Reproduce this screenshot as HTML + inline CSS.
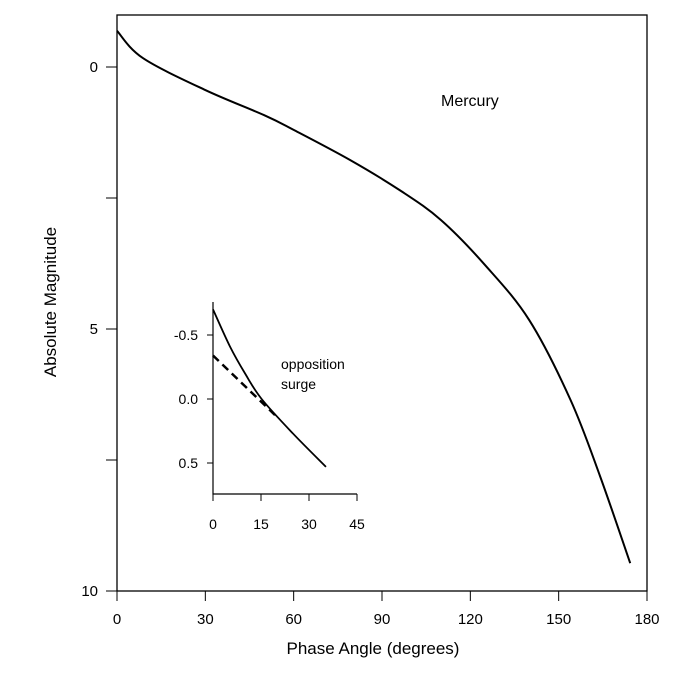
<!DOCTYPE html>
<html><head><meta charset="utf-8"><style>
body{margin:0;background:#fff}
svg text{font-family:"Liberation Sans",Arial,sans-serif;fill:#000}
</style></head><body>
<svg width="682" height="671" viewBox="0 0 682 671">
<g id="main"></g><g id="inset"></g>
<text x="441" y="106" font-size="16">Mercury</text>
<text x="281" y="369" font-size="14">opposition</text>
<text x="281" y="389" font-size="14">surge</text>
<text x="373" y="654" font-size="17" text-anchor="middle">Phase Angle (degrees)</text>
<text transform="translate(56,302) rotate(-90)" font-size="17" text-anchor="middle">Absolute Magnitude</text>
</svg>
<script>
const mainAngles=[0,8.8,30,50,60,79,96,110,125,140,154,164,174.3];
const mainMags=[-0.69,-0.17,0.44,0.92,1.2,1.77,2.35,2.92,3.78,4.83,6.35,7.8,9.47];
const xTicks=[0,30,60,90,120,150,180];
const yTicks=[0,2.5,5,7.5,10];
const yTickLabels=["0","","5","","10"];
const insetAngles=[0,5.3,10,15.2,25,35.3];
const insetMags=[-0.7,-0.41,-0.2,0.0,0.27,0.53];
const dashAngles=[0,20];
const dashMags=[-0.34,0.14];
const insetXTicks=[0,15,30,45];
const insetYTicks=[-0.5,0,0.5];
const insetYTickLabels=["-0.5","0.0","0.5"];
const NS="http://www.w3.org/2000/svg";
function mk(p,t,a){const e=document.createElementNS(NS,t);for(const k in a)e.setAttribute(k,a[k]);p.appendChild(e);return e;}
function smooth(pts){let d='M'+pts[0][0]+','+pts[0][1];
for(let i=0;i<pts.length-1;i++){const p0=pts[Math.max(i-1,0)],p1=pts[i],p2=pts[i+1],p3=pts[Math.min(i+2,pts.length-1)];
d+=' C'+(p1[0]+(p2[0]-p0[0])/6)+','+(p1[1]+(p2[1]-p0[1])/6)+' '+(p2[0]-(p3[0]-p1[0])/6)+','+(p2[1]-(p3[1]-p1[1])/6)+' '+p2[0]+','+p2[1];}
return d;}
const X=d=>117+d*(530/180), Y=m=>67+m*52.4;
const xi=d=>213+d*3.2, yi=m=>399+m*128;
const g=document.getElementById('main'), gi=document.getElementById('inset');
let r=mk(g,'rect',{x:117,y:15,width:530,height:576,fill:'none',stroke:'#000','stroke-width':1.3});


xTicks.forEach(t=>{let l=mk(g,'line',{x1:X(t),x2:X(t),y1:591,y2:601,stroke:'#000'});


let s=mk(g,'text',{x:X(t),y:624,'font-size':15,'text-anchor':'middle'});s.textContent=t;

});
yTicks.forEach((t,i)=>{let l=mk(g,'line',{x1:106,x2:117,y1:Y(t),y2:Y(t),stroke:'#000'});


let s=mk(g,'text',{x:98,y:Y(t)+5,'font-size':15,'text-anchor':'end'});s.textContent=yTickLabels[i];

});
let p=mk(g,'path',{d:smooth(mainAngles.map((a,i)=>[X(a),Y(mainMags[i])])),fill:'none',stroke:'#000','stroke-width':2});


let ax=mk(gi,'path',{d:'M213,302V494H357',fill:'none',stroke:'#000','stroke-width':1.2});


insetXTicks.forEach(t=>{let l=mk(gi,'line',{x1:xi(t),x2:xi(t),y1:494,y2:501,stroke:'#000'});


let s=mk(gi,'text',{x:xi(t),y:529,'font-size':14,'text-anchor':'middle'});s.textContent=t;

});
insetYTicks.forEach((t,i)=>{let l=mk(gi,'line',{x1:207,x2:213,y1:yi(t),y2:yi(t),stroke:'#000'});


let s=mk(gi,'text',{x:198,y:yi(t)+5,'font-size':14,'text-anchor':'end'});s.textContent=insetYTickLabels[i];

});
let ip=mk(gi,'path',{d:smooth(insetAngles.map((a,i)=>[xi(a),yi(insetMags[i])])),fill:'none',stroke:'#000','stroke-width':1.8});


let dp=mk(gi,'polyline',{points:dashAngles.map((a,i)=>xi(a)+','+yi(dashMags[i])).join(' '),fill:'none',stroke:'#000','stroke-width':2.5,'stroke-dasharray':'8,5'});


</script>
</body></html>
